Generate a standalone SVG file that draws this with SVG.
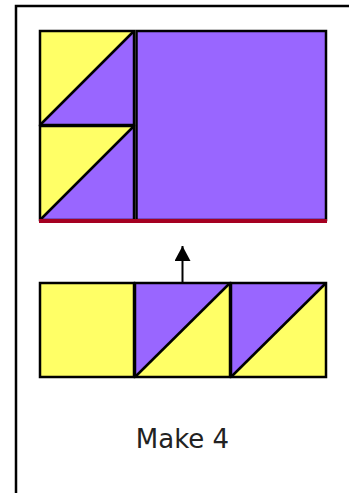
<svg xmlns="http://www.w3.org/2000/svg" width="349" height="493" viewBox="0 0 349 493">
<style>
.y{fill:#FFFF66}
.p{fill:#9966FF}
.o{fill:none;stroke:#000;stroke-width:2.5}
.d{stroke:#000;stroke-width:2.5}
.t{font-family:"DejaVu Sans",Verdana,sans-serif;font-size:26px;fill:#222}
</style>
<defs>
<marker id="ah" markerWidth="16" markerHeight="16" refX="15" refY="8" orient="auto" markerUnits="userSpaceOnUse" viewBox="0 0 16 16">
<path d="M0,0 L15,8 L0,16 Z" fill="#000"/>
</marker>
</defs>
<g id="frame">
<path d="M16,493 V6 H349" fill="none" stroke="#000" stroke-width="2.5"/>
</g>
<g id="block-top">
<g id="hst-top1">
<rect x="40" y="31" width="94" height="94" class="p"/>
<path d="M40,31 H134 L40,125 Z" class="y"/>
<line x1="40" y1="125" x2="134" y2="31" class="d"/>
<rect x="40" y="31" width="94" height="94" class="o"/>
</g>
<g id="hst-top2">
<rect x="40" y="126" width="94" height="94" class="p"/>
<path d="M40,126 H134 L40,220 Z" class="y"/>
<line x1="40" y1="220" x2="134" y2="126" class="d"/>
<rect x="40" y="126" width="94" height="94" class="o"/>
</g>
<g id="big-purple">
<rect x="136.5" y="31" width="189.5" height="189" class="p"/>
<rect x="136.5" y="31" width="189.5" height="189" class="o"/>
</g>
<g id="red-edge">
<line x1="39" y1="221" x2="327" y2="221" stroke="#A50021" stroke-width="4"/>
</g>
</g>
<g id="connectors">
<line x1="182.5" y1="283" x2="182.5" y2="246" stroke="#000" stroke-width="2" marker-end="url(#ah)"/>
</g>
<g id="row-bottom">
<g id="sq-yellow">
<rect x="40" y="283" width="94" height="94" class="y"/>
<rect x="40" y="283" width="94" height="94" class="o"/>
</g>
<g id="hst-b1">
<rect x="135" y="283" width="95" height="94" class="y"/>
<path d="M135,283 H230 L135,377 Z" class="p"/>
<line x1="135" y1="377" x2="230" y2="283" class="d"/>
<rect x="135" y="283" width="95" height="94" class="o"/>
</g>
<g id="hst-b2">
<rect x="231" y="283" width="95" height="94" class="y"/>
<path d="M231,283 H326 L231,377 Z" class="p"/>
<line x1="231" y1="377" x2="326" y2="283" class="d"/>
<rect x="231" y="283" width="95" height="94" class="o"/>
</g>
</g>
<g id="label">
<text x="182.5" y="448" text-anchor="middle" class="t">Make 4</text>
</g>
</svg>
